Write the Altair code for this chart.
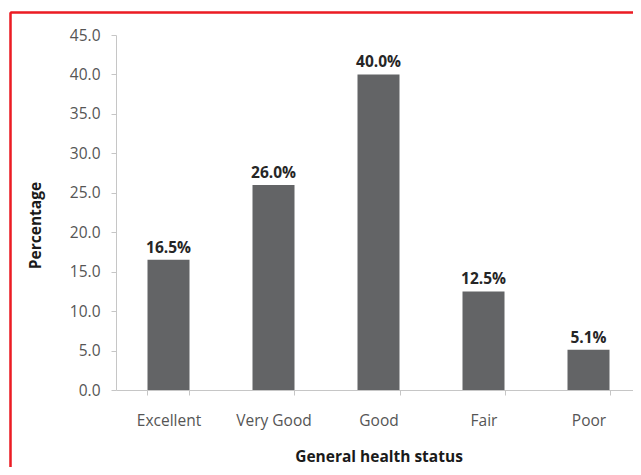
import altair as alt
import pandas as pd

categories = ["Excellent", "Very Good", "Good", "Fair", "Poor"]
percentages = [16.5, 26.0, 40.0, 12.5, 5.1]
labels = ["16.5%", "26.0%", "40.0%", "12.5%", "5.1%"]
y_ticks = [0, 5, 10, 15, 20, 25, 30, 35, 40, 45]

df = pd.DataFrame({"status": categories, "pct": percentages, "label": labels})

FONT = "Open Sans"

x_enc = alt.X(
    "status:N",
    sort=categories,
    scale=alt.Scale(paddingInner=0.6, paddingOuter=0.3, range=[0, 525]),
    axis=alt.Axis(
        title="General health status",
        labelAngle=0,
        tickBand="extent",
        labelPadding=18,
        titlePadding=21,
    ),
)
y_enc = alt.Y(
    "pct:Q",
    scale=alt.Scale(domain=[0, 45], nice=False),
    axis=alt.Axis(
        title="Percentage",
        values=y_ticks,
        format=".1f",
        grid=False,
        labelOverlap=False,
        labelPadding=11,
        titlePadding=26,
        titleY=190,
    ),
)

base = alt.Chart(df).encode(x=x_enc, y=y_enc)
bars = base.mark_bar(color="#636466")
text = base.mark_text(
    dy=-12, fontWeight="bold", fontSize=15.5, color="#262626", font=FONT
).encode(text="label:N")

frame_top = alt.Chart(df).mark_rule(color="#ec1c24", strokeWidth=1.5).encode(
    x=alt.value(-105.5), x2=alt.value(540), y=alt.value(-22.5)
)
frame_left = alt.Chart(df).mark_rule(color="#ec1c24", strokeWidth=1.5).encode(
    x=alt.value(-105.5), y=alt.value(-22.5), y2=alt.value(460)
)

chart = (
    alt.layer(bars, text, frame_top, frame_left)
    .properties(
        width=517,
        height=355,
        autosize=alt.AutoSizeParams(type="none"),
        padding={"left": 108, "top": 27, "right": 0, "bottom": 77},
    )
    .configure_view(stroke=None)
    .configure_axis(
        labelFont=FONT,
        titleFont=FONT,
        labelFontSize=15.5,
        titleFontSize=15.5,
        labelColor="#555555",
        titleColor="#1a1a1a",
        titleFontWeight="bold",
        domainColor="#c6c6c6",
        tickColor="#c6c6c6",
        tickSize=5,
    )
)

chart.save("out.html", embed_options={"renderer": "svg", "actions": False})
